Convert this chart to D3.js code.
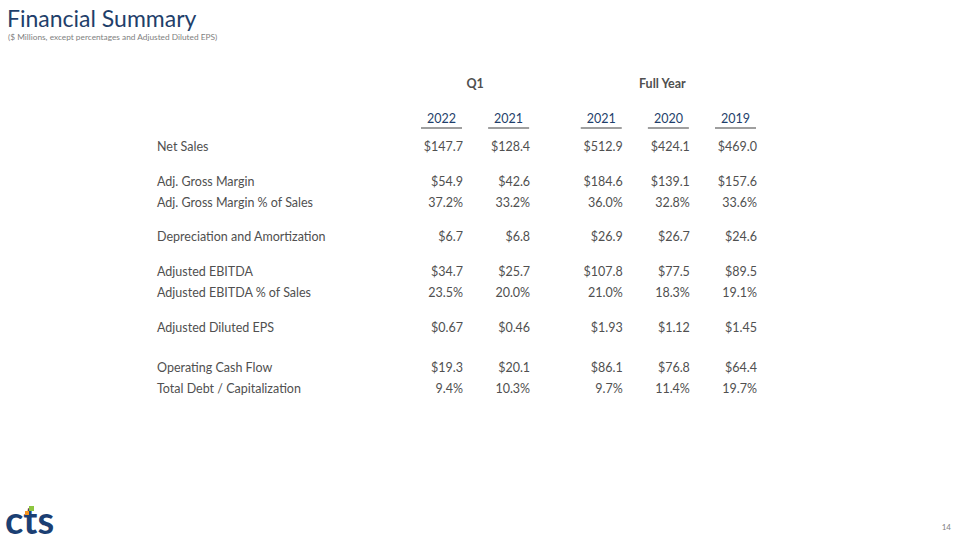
<!DOCTYPE html>
<html lang="en">

<head>
	<meta charset="utf-8">
	<title>Financial Summary</title>
	<script type="text/javascript" src="https://cdn.jsdelivr.net/npm/d3@7"></script>
	<style type="text/css">
		body { margin: 0; background: #fff; }
		text { font-family: Lato, "Open Sans", sans-serif; }
		.cell { font-size: 12.5px; fill: #505050; }
		.year { font-size: 12.5px; fill: #1f3f6b; }
		.head { font-size: 12.5px; font-weight: bold; fill: #505050; }
	</style>
</head>

<body>
	<script type="text/javascript">
		var w = 960;
		var h = 540;

		// column headers
		var periods = ["Q1", "Full Year"];
		var years = ["2022", "2021", "2021", "2020", "2019"];
		var yearPeriod = [0, 0, 1, 1, 1];

		// row labels and the block each row belongs to
		var rowLabels = [
			"Net Sales",
			"Adj. Gross Margin",
			"Adj. Gross Margin % of Sales",
			"Depreciation and Amortization",
			"Adjusted EBITDA",
			"Adjusted EBITDA % of Sales",
			"Adjusted Diluted EPS",
			"Operating Cash Flow",
			"Total Debt / Capitalization"
		];
		var rowGroup = [0, 1, 1, 2, 3, 3, 4, 5, 5];

		// values per column: Q1 2022, Q1 2021, FY 2021, FY 2020, FY 2019
		var netSales = ["$147.7", "$128.4", "$512.9", "$424.1", "$469.0"];
		var grossMargin = ["$54.9", "$42.6", "$184.6", "$139.1", "$157.6"];
		var grossMarginPct = ["37.2%", "33.2%", "36.0%", "32.8%", "33.6%"];
		var depAmort = ["$6.7", "$6.8", "$26.9", "$26.7", "$24.6"];
		var ebitda = ["$34.7", "$25.7", "$107.8", "$77.5", "$89.5"];
		var ebitdaPct = ["23.5%", "20.0%", "21.0%", "18.3%", "19.1%"];
		var dilutedEps = ["$0.67", "$0.46", "$1.93", "$1.12", "$1.45"];
		var opCashFlow = ["$19.3", "$20.1", "$86.1", "$76.8", "$64.4"];
		var debtCap = ["9.4%", "10.3%", "9.7%", "11.4%", "19.7%"];

		var rowValues = [netSales, grossMargin, grossMarginPct, depAmort, ebitda,
			ebitdaPct, dilutedEps, opCashFlow, debtCap];

		var svg = d3.select("body")
			.append("svg")
			.attr("width", w)
			.attr("height", h);

		// title
		svg.append("text")
			.attr("x", 7)
			.attr("y", 27)
			.attr("font-size", "23px")
			.attr("fill", "#1f3f6b")
			.text("Financial Summary");

		svg.append("text")
			.attr("x", 8)
			.attr("y", 40)
			.attr("font-size", "8.3px")
			.attr("fill", "#7f7f7f")
			.text("($ Millions, except percentages and Adjusted Diluted EPS)");

		// column scale: Q1 block and Full Year block, with a gap between them
		var colSlot = years.map(function (d, i) { return i + yearPeriod[i] * 0.38; });
		var xScale = d3.scaleLinear()
			.domain([0, 4 + 0.38])
			.range([441.5, 735.5]);
		var colW = 41;

		// row scale: 21px per row plus a gap between blocks
		var rowSlot = rowLabels.map(function (d, i) {
			var g = rowGroup[i];
			return i + g * 0.645 + (g >= 5 ? 0.3 : 0);
		});
		var yScale = d3.scaleLinear()
			.domain([0, 1])
			.range([147, 168]);

		// period headers
		svg.selectAll("text.head")
			.data(periods)
			.enter()
			.append("text")
			.attr("class", "head")
			.attr("text-anchor", "middle")
			.attr("x", function (d, p) {
				var slots = colSlot.filter(function (s, i) { return yearPeriod[i] === p; });
				return xScale(d3.mean(slots)) + (p === 0 ? 0 : -6);
			})
			.attr("y", 84)
			.attr("dy", "0.35em")
			.text(function (d) { return d; });

		// year headers and underlines
		var yearG = svg.selectAll("g.year")
			.data(years)
			.enter()
			.append("g")
			.attr("transform", function (d, i) { return "translate(" + xScale(colSlot[i]) + ",0)"; });

		yearG.append("text")
			.attr("class", "year")
			.attr("text-anchor", "middle")
			.attr("y", 119)
			.attr("dy", "0.35em")
			.text(function (d) { return d; });

		yearG.append("line")
			.attr("x1", -colW / 2)
			.attr("x2", colW / 2)
			.attr("y1", 128)
			.attr("y2", 128)
			.attr("stroke", "#7f7f7f")
			.attr("stroke-width", 1.5);

		// rows
		var rows = svg.selectAll("g.row")
			.data(rowLabels)
			.enter()
			.append("g")
			.attr("transform", function (d, i) { return "translate(0," + yScale(rowSlot[i]) + ")"; });

		rows.append("text")
			.attr("class", "cell")
			.attr("x", 157)
			.attr("dy", "0.35em")
			.text(function (d) { return d; });

		rows.selectAll("text.val")
			.data(function (d, i) { return rowValues[i]; })
			.enter()
			.append("text")
			.attr("class", "cell val")
			.attr("text-anchor", "end")
			.attr("x", function (d, j) { return xScale(colSlot[j]) + colW / 2 + 1; })
			.attr("dy", "0.35em")
			.text(function (d) { return d; });

		// logo
		var logo = svg.append("g").attr("transform", "translate(5,534)");
		logo.append("text")
			.attr("font-family", "'Open Sans', sans-serif")
			.attr("font-weight", "bold")
			.attr("font-size", "38px")
			.attr("fill", "#1b3f73")
			.text("cts");
		logo.append("rect")
			.attr("x", 24).attr("y", -28).attr("width", 5).attr("height", 5)
			.attr("fill", "#8dc63f");
		logo.append("rect")
			.attr("x", 20).attr("y", -23).attr("width", 4).attr("height", 4)
			.attr("fill", "#f7941d");

		// page number
		svg.append("text")
			.attr("x", 951)
			.attr("y", 530)
			.attr("text-anchor", "end")
			.attr("font-size", "8px")
			.attr("fill", "#7f7f7f")
			.text("14");
	</script>
</body>

</html>
